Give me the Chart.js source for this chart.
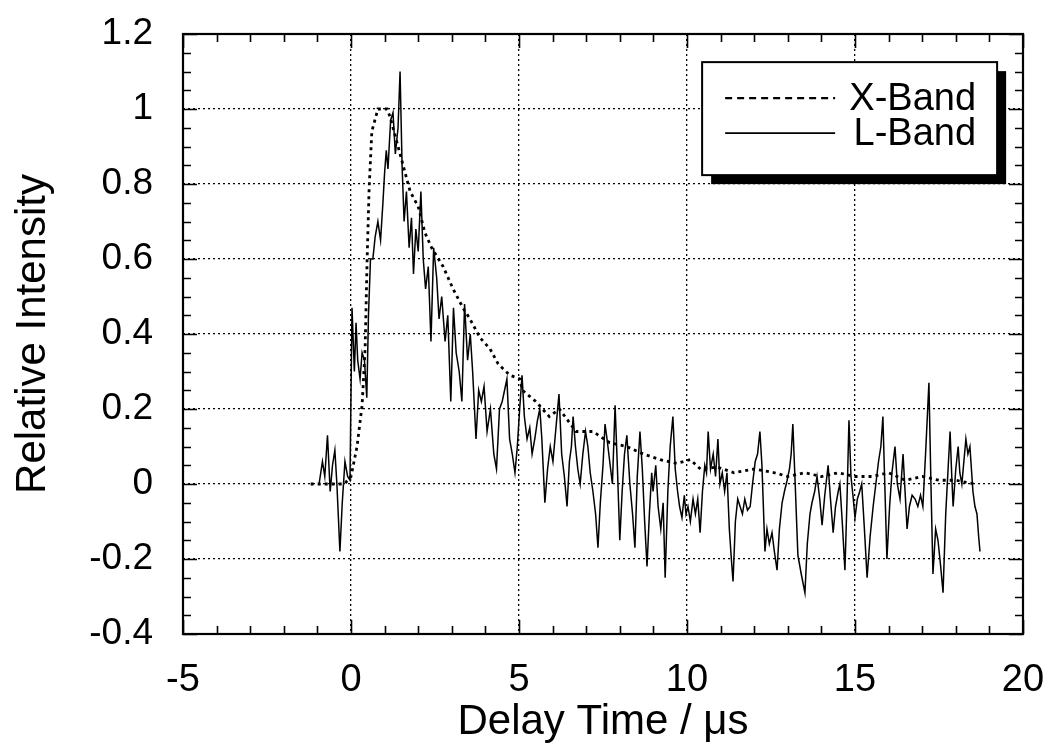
<!DOCTYPE html>
<html><head><meta charset="utf-8">
<script src="https://cdn.jsdelivr.net/npm/chart.js@4/dist/chart.umd.min.js"></script>
<style>html,body{margin:0;padding:0;background:#fff;}#wrap{width:1055px;height:750px;}</style>
</head><body><div id="wrap"><canvas id="c" width="1055" height="750"></canvas></div>
<script>
// ---- data ----
const seriesNames = ['X-Band', 'L-Band'];
const xTitle = 'Delay Time / \u03bcs';
const yTitle = 'Relative Intensity';
const xTickValues = [-5, 0, 5, 10, 15, 20];
const yTickValues = [-0.4, -0.2, 0, 0.2, 0.4, 0.6, 0.8, 1, 1.2];

const xBandTime = [-1.2, -1.0, -0.5, -0.2, 0.0, 0.18, 0.33, 0.42, 0.48, 0.54, 0.62, 0.8, 1.07, 1.16, 1.55, 1.76, 2.0, 2.2, 2.4, 2.74, 3.04, 3.33, 3.54, 3.84, 4.14, 4.38, 4.73, 5.03, 5.1, 5.5, 5.9, 6.2, 6.7, 7.2, 7.7, 8.2, 8.7, 9.2, 9.7, 10.1, 10.4, 10.9, 11.4, 12.0, 12.6, 13.0, 13.5, 14.0, 14.5, 15.0, 15.5, 16.0, 16.5, 17.0, 17.5, 18.0, 18.57];
const xBandIntensity = [0.0, 0.0, 0.0, 0.0, 0.02, 0.1, 0.21, 0.36, 0.6, 0.79, 0.94, 1.0, 1.0, 0.98, 0.85, 0.78, 0.74, 0.67, 0.63, 0.58, 0.52, 0.47, 0.44, 0.39, 0.36, 0.32, 0.29, 0.28, 0.25, 0.22, 0.18, 0.2, 0.14, 0.14, 0.11, 0.1, 0.08, 0.065, 0.055, 0.065, 0.04, 0.045, 0.03, 0.04, 0.03, 0.02, 0.03, 0.02, 0.03, 0.02, 0.02, 0.03, 0.01, 0.02, 0.01, 0.01, 0.0];

const lBandTime = [-0.95, -0.85, -0.78, -0.7, -0.62, -0.55, -0.48, -0.42, -0.33, -0.26, -0.18, -0.1, -0.03, 0.03, 0.1, 0.15, 0.2, 0.27, 0.33, 0.4, 0.47, 0.52, 0.58, 0.65, 0.72, 0.8, 0.88, 0.95, 1.0, 1.05, 1.1, 1.18, 1.25, 1.32, 1.4, 1.46, 1.52, 1.58, 1.65, 1.73, 1.8, 1.86, 1.93, 2.0, 2.08, 2.15, 2.22, 2.3, 2.38, 2.46, 2.55, 2.62, 2.7, 2.8, 2.88, 2.97, 3.05, 3.13, 3.22, 3.3, 3.38, 3.47, 3.55, 3.62, 3.72, 3.8, 3.88, 3.96, 4.05, 4.15, 4.25, 4.33, 4.42,
  4.5, 4.64, 4.72, 4.8, 4.88, 4.95, 5.02, 5.09, 5.16, 5.24, 5.32, 5.39, 5.47, 5.55, 5.62, 5.68, 5.77, 5.85, 5.93, 6.01, 6.1, 6.19, 6.27, 6.35, 6.43, 6.5, 6.56, 6.61, 6.68, 6.75, 6.82, 6.9, 6.98, 7.05, 7.12, 7.2, 7.28, 7.35, 7.42, 7.5, 7.56, 7.62, 7.7, 7.78, 7.86, 7.93, 8.0, 8.07, 8.14, 8.21, 8.3, 8.38, 8.45, 8.52, 8.6, 8.67, 8.74, 8.81, 8.88, 8.95, 8.99, 9.07, 9.14, 9.22, 9.29, 9.35, 9.43, 9.5, 9.58, 9.65, 9.72, 9.78, 9.85, 9.92, 9.97, 10.03, 10.1, 10.18, 10.25, 10.32, 10.39, 10.46, 10.53, 10.58, 10.63, 10.7, 10.78, 10.85, 10.92, 10.98, 11.05, 11.12, 11.19, 11.26, 11.32, 11.37, 11.44, 11.51, 11.58, 11.65, 11.72, 11.8, 11.88, 11.95, 12.03, 12.1, 12.17, 12.23, 12.32, 12.38, 12.45, 12.53, 12.6, 12.68, 12.75, 12.83, 12.9, 12.98, 13.05, 13.1, 13.15, 13.22, 13.3, 13.4, 13.51, 13.58, 13.66, 13.72, 13.8, 13.87, 13.95, 14.02, 14.1, 14.2, 14.27, 14.35, 14.42, 14.5, 14.55, 14.62, 14.7, 14.76, 14.82, 14.88, 14.95, 15.0, 15.07, 15.14, 15.2, 15.28, 15.36, 15.45, 15.54, 15.62, 15.7, 15.77, 15.83, 15.88, 15.95, 16.03, 16.1, 16.19, 16.26, 16.34, 16.43, 16.49, 16.55, 16.62, 16.7, 16.79, 16.87, 16.95, 17.02, 17.1, 17.2, 17.26, 17.32, 17.4, 17.47, 17.55, 17.62, 17.7, 17.77, 17.83, 17.88, 17.92, 18.0, 18.07, 18.12, 18.18, 18.24, 18.3, 18.36, 18.42, 18.51, 18.57, 18.63, 18.68, 18.72];
const lBandIntensity = [0.0, 0.06, 0.02, 0.13, -0.02, 0.05, 0.09, 0.0, -0.18, -0.05, 0.06, 0.02, 0.01, 0.47, 0.30, 0.43, 0.33, 0.28, 0.35, 0.33, 0.23, 0.45, 0.6, 0.6, 0.66, 0.70, 0.65, 0.75, 0.83, 0.89, 0.84, 0.97, 0.99, 0.88, 0.95, 1.1, 0.85, 0.70, 0.78, 0.63, 0.71, 0.56, 0.68, 0.62, 0.78, 0.6, 0.52, 0.58, 0.38, 0.63, 0.55, 0.44, 0.5, 0.38, 0.45, 0.22, 0.47, 0.35, 0.30, 0.22, 0.48, 0.33, 0.4, 0.3, 0.12, 0.25, 0.22, 0.26, 0.14, 0.2, 0.08, 0.04, 0.2,
  0.22, 0.28, 0.12, 0.08, 0.03, 0.1, 0.2, 0.29, 0.18, 0.12, 0.15, 0.08, 0.12, 0.17, 0.2, 0.12, -0.05, 0.04, 0.1, 0.06, 0.15, 0.24, 0.08, 0.02, -0.06, 0.06, 0.1, 0.18, 0.1, 0.04, 0.0, 0.08, 0.14, 0.1, 0.03, -0.02, -0.08, -0.17, -0.05, 0.05, 0.16, 0.12, 0.06, 0.0, 0.21, 0.04, -0.15, -0.02, 0.08, 0.13, 0.0, -0.08, -0.17, 0.02, 0.14, 0.04, -0.1, -0.22, -0.08, 0.03, -0.02, 0.05, -0.06, -0.12, -0.05, -0.25, -0.02, 0.1, 0.18, 0.04, -0.02, -0.06, -0.09, -0.03, -0.08, -0.06, -0.1, -0.04, -0.08, -0.04, -0.13, -0.02, 0.05, 0.03, 0.14, 0.04, 0.08, 0.02, 0.12, 0.0, 0.03, -0.02, 0.03, -0.12, -0.2, -0.26, -0.1, -0.04, -0.06, -0.08, -0.04, -0.07, -0.06, 0.0, 0.06, 0.08, 0.14, 0.05, -0.18, -0.12, -0.16, -0.13, -0.18, -0.23, -0.12, -0.05, -0.02, 0.01, 0.04, 0.08, 0.16, 0.0, -0.19, -0.24, -0.29, -0.16, -0.08, -0.05, -0.02, 0.02, -0.04, -0.11, -0.03, 0.05, -0.04, -0.13, -0.06, -0.02, 0.0, -0.1, -0.23, -0.05, 0.17, 0.02, -0.04, -0.09, -0.04, -0.02, 0.0, -0.12, -0.25, -0.14, -0.06, 0.0, 0.06, 0.1, 0.18, 0.02, -0.2, -0.06, 0.03, 0.1, 0.0, -0.04, 0.08, -0.02, -0.12, -0.06, -0.03, -0.04, -0.06, -0.03, -0.06, 0.08, 0.27, 0.0, -0.24, -0.12, -0.15, -0.22, -0.29, -0.08, 0.04, 0.14, 0.02, -0.06, 0.04, 0.1, 0.03, 0.0, 0.06, 0.12, 0.08, 0.1, -0.02, -0.06, -0.08, -0.14, -0.18];

// ---- build ----
const FONT = "'Liberation Sans', Arial, Helvetica, sans-serif";
const toPoints = (xs, ys) => xs.map((t, i) => ({x: t, y: ys[i]}));

const framePlugin = {
  id: 'frame',
  afterDraw(chart) {
    const {ctx, chartArea: a, scales: {x, y}} = chart;
    ctx.save();
    ctx.strokeStyle = '#000';
    ctx.lineWidth = 1.6;
    const xMinorCount = (x.max - x.min);
    for (let i = 0; i <= xMinorCount; i++) {
      const v = x.min + i;
      const px = Math.round(x.getPixelForValue(v)) + 0.5;
      const len = (v % 5 === 0) ? 14 : 8;
      ctx.beginPath();
      ctx.moveTo(px, a.bottom); ctx.lineTo(px, a.bottom - len);
      ctx.moveTo(px, a.top); ctx.lineTo(px, a.top + len);
      ctx.stroke();
    }
    const yMinorCount = Math.round((y.max - y.min) / 0.05);
    for (let i = 0; i <= yMinorCount; i++) {
      const v = y.min + i * 0.05;
      const py = Math.round(y.getPixelForValue(v)) + 0.5;
      const len = (i % 4 === 0) ? 14 : 8;
      ctx.beginPath();
      ctx.moveTo(a.left, py); ctx.lineTo(a.left + len, py);
      ctx.moveTo(a.right, py); ctx.lineTo(a.right - len, py);
      ctx.stroke();
    }
    ctx.lineWidth = 2.2;
    ctx.strokeRect(a.left, a.top, a.right - a.left, a.bottom - a.top);

    // legend box with shadow
    const bx = x.getPixelForValue(10.45), by = y.getPixelForValue(1.125);
    const bw = 295, bh = 113, sh = 9;
    ctx.fillStyle = '#000';
    ctx.fillRect(bx + sh, by + sh, bw, bh);
    ctx.fillStyle = '#fff';
    ctx.fillRect(bx, by, bw, bh);
    ctx.lineWidth = 2;
    ctx.strokeRect(bx, by, bw, bh);
    const ds = chart.data.datasets;
    const rows = [by + 36, by + 71];
    ds.forEach((d, i) => {
      ctx.save();
      ctx.lineWidth = i === 0 ? 2.2 : 1.6;
      ctx.setLineDash(i === 0 ? [7, 5] : []);
      ctx.beginPath();
      ctx.moveTo(bx + 23, rows[i]); ctx.lineTo(bx + 133, rows[i]);
      ctx.stroke();
      ctx.restore();
      ctx.fillStyle = '#000';
      ctx.font = '38px ' + FONT;
      ctx.textAlign = 'right';
      ctx.textBaseline = 'middle';
      ctx.fillText(d.label, bx + bw - 21, rows[i] + 1);
    });
    ctx.restore();
  }
};

new Chart(document.getElementById('c'), {
  type: 'line',
  data: {
    datasets: [
      {label: seriesNames[0], data: toPoints(xBandTime, xBandIntensity), borderColor: '#000', borderWidth: 2.8, borderDash: [3, 4], pointRadius: 0, fill: false, tension: 0},
      {label: seriesNames[1], data: toPoints(lBandTime, lBandIntensity), borderColor: '#000', borderWidth: 1.5, pointRadius: 0, fill: false, tension: 0}
    ]
  },
  options: {
    responsive: false,
    devicePixelRatio: 1,
    animation: false,
    layout: {padding: {left: 0, top: 34, right: 32, bottom: 0}},
    plugins: {legend: {display: false}, tooltip: {enabled: false}},
    scales: {
      x: {
        type: 'linear', min: -5, max: 20,
        afterBuildTicks: s => { s.ticks = xTickValues.map(v => ({value: v})); },
        afterFit: s => { s.height = 116; s.paddingLeft = 0; s.paddingRight = 0; },
        grid: {color: '#000', lineWidth: 1.3, drawTicks: false},
        border: {display: false, dash: [2, 3]},
        ticks: {color: '#000', font: {family: FONT, size: 38}, padding: 24, maxRotation: 0, callback: v => String(v)},
        title: {display: true, text: xTitle, color: '#000', font: {family: FONT, size: 42}, padding: {top: 0, bottom: 2}}
      },
      y: {
        type: 'linear', min: -0.4, max: 1.2,
        afterBuildTicks: s => { s.ticks = yTickValues.map(v => ({value: v})); },
        afterFit: s => { s.width = 183; s.paddingTop = 0; s.paddingBottom = 0; },
        grid: {color: '#000', lineWidth: 1.3, drawTicks: false},
        border: {display: false, dash: [2, 3]},
        ticks: {color: '#000', font: {family: FONT, size: 37}, padding: 30, callback: v => String(Math.round(v * 10) / 10)},
        title: {display: true, text: yTitle, color: '#000', font: {family: FONT, size: 42}, padding: {top: 8, bottom: 0}}
      }
    }
  },
  plugins: [framePlugin]
});
</script></body></html>
